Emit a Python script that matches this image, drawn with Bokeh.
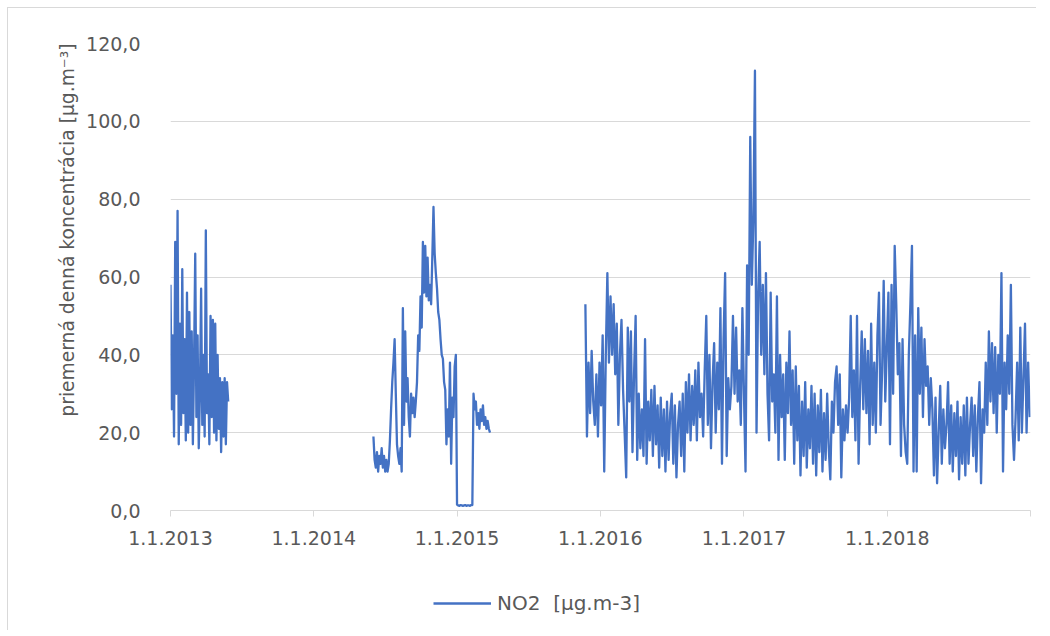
import numpy as np
import pandas as pd
from bokeh.plotting import figure
from bokeh.layouts import column
from bokeh.models import (ColumnDataSource, Range1d, FixedTicker,
                          CustomJSTickFormatter, Legend, LegendItem, Title)
from bokeh.embed import file_html
from bokeh.resources import INLINE

# ---------------- data ----------------
series_label = "NO2  [µg.m-3]"
y_title = "priemerná denná koncentrácia [µg.m⁻³]"
y_ticks = [0, 20, 40, 60, 80, 100, 120]
x_tick_years = [2013, 2014, 2015, 2016, 2017, 2018, 2019]

# segment 1: winter/spring 2013, every 3rd day
seg1_start = "2013-01-01"
seg1_step = 3
seg1_values = [58, 26, 45, 19, 69, 30, 77, 17, 48, 22,
               62, 25, 44, 18, 56, 20, 51, 22, 46, 17,
               38, 66, 24, 45, 16, 30, 57, 22, 40, 19,
               72, 25, 35, 17, 50, 24, 49, 20, 48, 18,
               40, 21, 34, 15, 33, 19, 34, 17, 33, 28]

# segment 2: June 2014 - March 2015, every 3rd day
seg2_start = "2014-06-02"
seg2_step = 3
seg2_values = [19, 13, 11, 15, 10, 14, 12, 16, 11, 14,
               10, 13, 10, 12, 18, 26, 33, 38, 44, 30,
               17, 14, 12, 16, 10, 52, 22, 46, 28, 34,
               24, 19, 30, 25, 29, 24, 28, 33, 45, 41,
               55, 47, 69, 56, 68, 55, 65, 54, 58, 53,
               65, 78, 66, 61, 57, 51, 49, 44, 40, 39,
               33, 31, 17, 26, 19, 38, 12, 29, 24, 37,
               40, 1.5, 1.3, 1.2, 1.4, 1.3, 1.2, 1.3, 1.4, 1.2,
               1.3, 1.3, 1.2, 1.4, 1.4, 30, 26, 28, 22, 25,
               21, 26, 23, 27, 22, 24, 21, 23, 21, 20]

# segment 3: Nov 2015 - Dec 2018, every 4th day
seg3_start = "2015-11-24"
seg3_step = 4
seg3_values = [53, 19, 38, 25, 41, 28, 22, 35, 19, 38,
               27, 45, 10, 40, 61, 38, 55, 40, 53, 35,
               48, 22, 40, 49, 31, 20, 8.5, 47, 28, 46,
               15, 35, 50, 13, 30, 16, 26, 14, 44, 12,
               28, 18, 31, 14, 32, 17, 27, 11, 29, 14,
               26, 10, 28, 13, 25, 30, 12, 27, 8.5, 22,
               28, 14, 30, 10, 33, 20, 35, 18, 32, 22,
               36, 18, 38, 24, 30, 19, 36, 50, 22, 40,
               16, 33, 43, 20, 38, 26, 52, 12, 44, 61,
               14, 34, 26, 32, 50, 30, 47, 28, 36, 22,
               52, 30, 10, 63, 40, 96, 58, 75, 113, 20,
               55, 69, 40, 58, 35, 61, 30, 18, 56, 28,
               35, 20, 55, 13, 40, 24, 35, 13, 38, 25,
               46, 22, 36, 12, 37, 18, 32, 9, 28, 14,
               33, 11, 26, 16, 32, 12, 30, 9, 27, 15,
               31, 10, 25, 13, 30, 16, 8, 28, 20, 33,
               37, 22, 35, 8.5, 26, 18, 27, 20, 29, 50,
               24, 36, 18, 50, 12, 32, 46, 26, 44, 25,
               41, 17, 48, 22, 38, 20, 45, 56, 22, 36,
               59, 28, 42, 56, 17, 58, 30, 68, 53, 35,
               43, 14, 44, 22, 15, 12, 40, 53, 68, 10,
               45, 10, 52, 30, 47, 24, 44, 32, 37, 22,
               34, 26, 9, 29, 7, 20, 32, 12, 26, 16,
               22, 33, 12, 27, 10, 25, 14, 28, 8, 24,
               12, 27, 9, 29, 12, 22, 29, 14, 27, 10,
               24, 33, 7, 26, 20, 38, 22, 46, 28, 43,
               25, 42, 20, 40, 30, 61, 10, 38, 26, 45,
               30, 58, 22, 13, 24, 38, 18, 47, 20, 34,
               48, 20, 38, 24]


def segment(start, step, values):
    d = pd.Timestamp(start) + pd.to_timedelta(np.arange(len(values)) * step, unit="D")
    return list(d), list(values)


xs, ys = [], []
for st, sp, vals in [(seg1_start, seg1_step, seg1_values),
                     (seg2_start, seg2_step, seg2_values),
                     (seg3_start, seg3_step, seg3_values)]:
    d, v = segment(st, sp, vals)
    if xs:
        xs.append(d[0] - pd.Timedelta(days=1))
        ys.append(np.nan)
    xs += d
    ys += v

source = ColumnDataSource(data=dict(x=xs, y=ys))

# ---------------- main chart ----------------
FONT = "DejaVu Sans"
GREY_TXT = "#595959"
GRID = "#D9D9D9"
BLUE = "#4472C4"
LINE_W = 2.3

x_start = pd.Timestamp(f"{x_tick_years[0]}-01-01")
x_end = pd.Timestamp(f"{x_tick_years[-1]}-01-01")

p = figure(frame_width=860, frame_height=467, x_axis_type="datetime",
           x_range=Range1d(x_start, x_end), y_range=Range1d(0, y_ticks[-1]),
           output_backend="svg", toolbar_location=None,
           min_border_left=162, min_border_right=6,
           min_border_top=35, min_border_bottom=60)
p.outline_line_color = None
p.background_fill_color = "white"
p.border_fill_color = "white"

r = p.line("x", "y", source=source, line_color=BLUE, line_width=LINE_W,
           line_join="round")

# y axis
p.yaxis.ticker = FixedTicker(ticks=y_ticks)
p.yaxis.formatter = CustomJSTickFormatter(
    code="return tick.toFixed(1).replace('.', ',');")
p.yaxis.axis_line_color = None
p.yaxis.major_tick_line_color = None
p.yaxis.minor_tick_line_color = None
p.yaxis.major_label_standoff = 24
p.yaxis.major_label_text_font = FONT
p.yaxis.major_label_text_font_size = "19px"
p.yaxis.major_label_text_color = GREY_TXT

# y title (aligned to the top of the plot area, as in the reference)
y_title_obj = Title(text=y_title, align="right", offset=0, standoff=12,
                    text_font=FONT, text_font_size="18.7px",
                    text_font_style="normal", text_color=GREY_TXT)
p.add_layout(y_title_obj, "left")

# x axis
year_ms = [pd.Timestamp(f"{y}-01-01").value // 10**6 for y in x_tick_years]
p.xaxis.ticker = FixedTicker(ticks=year_ms)
p.xaxis.formatter = CustomJSTickFormatter(
    code="const d = new Date(tick); const y = d.getUTCFullYear();"
         " return y < %d ? '1.1.' + y : '';" % x_tick_years[-1])
p.xaxis.axis_line_color = GRID
p.xaxis.axis_line_width = 1
p.xaxis.major_tick_line_color = GRID
p.xaxis.major_tick_out = 6
p.xaxis.major_tick_in = 0
p.xaxis.minor_tick_line_color = None
p.xaxis.major_label_standoff = 14
p.xaxis.major_label_text_font = FONT
p.xaxis.major_label_text_font_size = "19px"
p.xaxis.major_label_text_color = GREY_TXT

# grid
p.xgrid.grid_line_color = None
p.ygrid.ticker = FixedTicker(ticks=y_ticks)
p.ygrid.grid_line_color = GRID
p.ygrid.grid_line_width = 1

# ---------------- legend strip under the chart ----------------
# The strip shows the same series, but its ranges lie outside the data,
# so only the legend entry is visible.
p2 = figure(frame_width=162 + 860 + 6, frame_height=60,
            x_range=Range1d(0, 1), y_range=Range1d(-2, -1),
            output_backend="svg", toolbar_location=None,
            x_axis_location=None, y_axis_location=None,
            min_border_left=0, min_border_right=0,
            min_border_top=0, min_border_bottom=0)
p2.outline_line_color = None
p2.grid.visible = False
p2.background_fill_color = "white"
p2.border_fill_color = "white"
r2 = p2.line("x", "y", source=source, line_color=BLUE, line_width=LINE_W)

legend = Legend(items=[LegendItem(label=series_label, renderers=[r2])],
                orientation="horizontal", location=(425, 15),
                glyph_width=58, glyph_height=20, label_standoff=6,
                padding=0, margin=0, spacing=0,
                border_line_color=None, background_fill_alpha=0,
                label_text_font=FONT, label_text_font_size="20px",
                label_text_color=GREY_TXT)
p2.add_layout(legend, "center")

layout = column(p, p2, spacing=0,
                styles={"margin-left": "7px", "margin-top": "7px",
                        "border-left": "1px solid #D9D9D9",
                        "border-top": "1px solid #D9D9D9"})

open("out.html", "w").write(file_html(layout, INLINE))
